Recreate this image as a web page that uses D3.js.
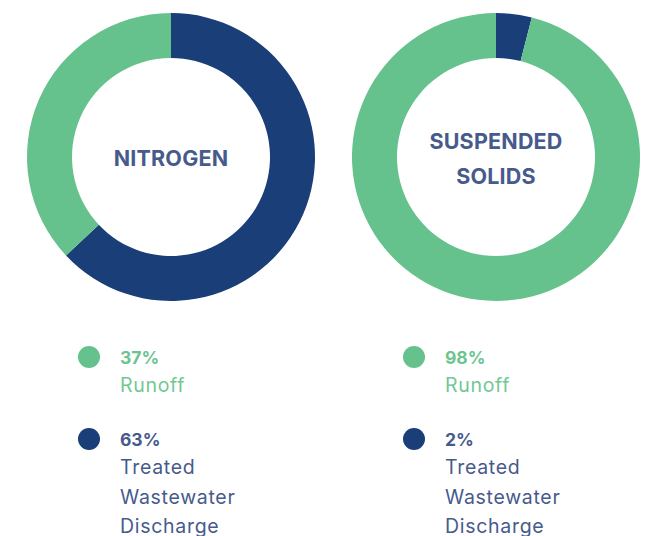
<!DOCTYPE html>
<meta charset="utf-8">
<style>
body, html {
  margin: 0;
  padding: 0;
  background: #fff;
}
.title {
  font: 700 21.5px Inter, "Open Sans", sans-serif;
  letter-spacing: 0.2px;
  fill: #475a8c;
  text-anchor: middle;
}
.pct {
  font: 700 17.5px Inter, sans-serif;
}
.name {
  font: 400 19.5px Inter, sans-serif;
  letter-spacing: 0.7px;
}
</style>
<div id="chart"></div>
<script src="https://d3js.org/d3.v7.min.js"></script>
<script>
// slice sizes as drawn, and the percentages printed in the legend
const categories = ["Treated Wastewater Discharge", "Runoff"]
const nitrogenValues = [63, 37]
const solidsValues = [4, 96]
const nitrogenLabels = ["63%", "37%"]
const solidsLabels = ["2%", "98%"]
const titles = [["NITROGEN"], ["SUSPENDED", "SOLIDS"]]

const width = 649
const height = 536
const outerR = 144
const innerR = 99

let svg = d3.select("#chart")
  .append("svg")
  .attr("width", width)
  .attr("height", height)

var color = d3.scaleOrdinal()
  .domain(categories)
  .range(["#1a3e77", "#65c28c"])
var textColor = d3.scaleOrdinal()
  .domain(categories)
  .range(["#475a8c", "#72c795"])

var pie = d3.pie().sort(null).value(function(d) { return d.value; })
var arc = d3.arc().innerRadius(innerR).outerRadius(outerR)

var charts = [
  { cx: 171, cy: 157, values: nitrogenValues, labels: nitrogenLabels, title: titles[0] },
  { cx: 496, cy: 157, values: solidsValues, labels: solidsLabels, title: titles[1] }
]

charts.forEach(function(c) {
  var data = categories.map(function(k, i) { return { key: k, value: c.values[i], label: c.labels[i] }; })
  var g = svg.append("g").attr("transform", "translate(" + c.cx + "," + c.cy + ")")
  g.selectAll("path")
    .data(pie(data))
    .enter().append("path")
    .attr("d", arc)
    .attr("fill", function(d) { return color(d.data.key); })

  var lh = 35
  g.selectAll("text.title")
    .data(c.title)
    .enter().append("text")
    .attr("class", "title")
    .attr("x", 0)
    .attr("y", function(d, i) { return (i - (c.title.length - 1) / 2) * lh + 9; })
    .text(function(d) { return d; })

  // legend: runoff first, then treated discharge
  var lx = c.cx - 82
  var legend = svg.append("g").attr("transform", "translate(" + lx + ",0)")
  var rows = [data[1], data[0]]
  var rowY = [357, 439]
  rows.forEach(function(d, i) {
    var row = legend.append("g").attr("transform", "translate(0," + rowY[i] + ")")
    row.append("circle")
      .attr("r", 11)
      .attr("fill", color(d.key))
    row.append("text")
      .attr("class", "pct")
      .attr("x", 31)
      .attr("y", 7)
      .attr("fill", d.key === "Runoff" ? "#6cc490" : "#475a8c")
      .text(d.label)
    var words = d.key === "Runoff" ? ["Runoff"] : ["Treated", "Wastewater", "Discharge"]
    row.selectAll("text.name")
      .data(words)
      .enter().append("text")
      .attr("class", "name")
      .attr("x", 31)
      .attr("y", function(w, j) { return 35 + j * 29.5; })
      .attr("fill", textColor(d.key))
      .text(function(w) { return w; })
  })
})
</script>
